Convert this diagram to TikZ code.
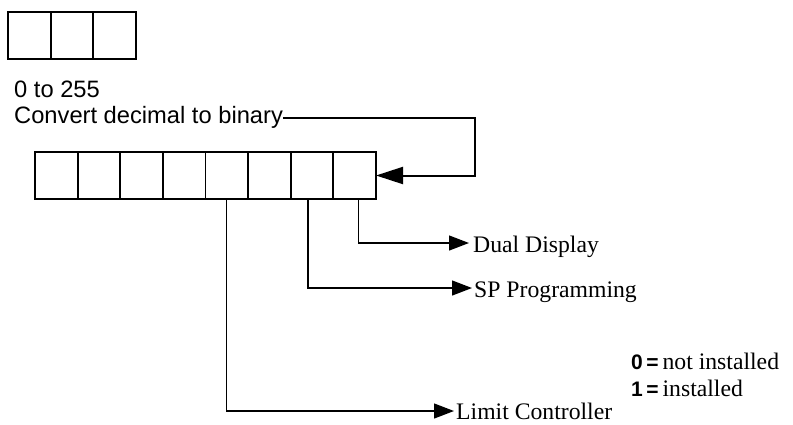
\documentclass[tikz,border=0pt]{standalone}
\usepackage{fontspec}
\setmainfont{Liberation Serif}
\setsansfont{Liberation Sans}
\usetikzlibrary{arrows.meta}
\newcommand{\legfont}{\fontsize{21}{24}\selectfont\sffamily\bfseries}
\begin{document}
\begin{tikzpicture}[x=1pt, y=-1pt,
    cell/.style={draw, line width=1.8pt, inner sep=0pt, outer sep=0pt, minimum height=47pt},
    sans/.style={font=\fontsize{23.7}{28}\selectfont\sffamily, anchor=base west, inner sep=0pt},
    lbl/.style={font=\fontsize{23.7}{28}\selectfont, anchor=base west, inner sep=0pt},
    conn/.style={line width=1.3pt, -{Triangle[length=20pt,width=15pt]}},
    fb/.style={line width=2pt, -{Triangle[length=27pt,width=17pt]}}]
  \useasboundingbox (0,0) rectangle (793,424);
  % decimal value, three digits
  \foreach \i in {1,2,3}
    \node[cell, minimum width=42.67pt] (t\i) at ({8+42.67*(\i-0.5)},35.5) {};
  \node[sans] (range) at (14,97) {0 to 255};
  \node[sans] (conv) at (14,123) {Convert decimal to binary};
  % eight bit register
  \foreach \i in {1,...,8}
    \node[cell, minimum width=42.625pt] (b\i) at ({35+42.625*(\i-0.5)},175.5) {};
  \draw[fb] ([yshift=5pt]conv.base east) -| ([xshift=99pt]b8.east) -- (b8.east);
  % options
  \node[lbl] (dual) at (473,252) {Dual Display};
  \node[lbl] (sp) at (474,297) {SP Programming};
  \node[lbl] (limit) at (456,419) {Limit Controller};
  \draw[conn] ([xshift=4pt]b8.south) |- ([xshift=-4pt,yshift=9pt]dual.base west);
  \draw[conn] ([xshift=-4pt]b7.south) |- ([xshift=-2pt,yshift=9pt]sp.base west);
  \draw[conn] (b5.south) |- ([xshift=-2pt,yshift=8pt]limit.base west);
  % legend
  \node[lbl] (leg0) at (631,369) {{\legfont 0\,=}\,not installed};
  \node[lbl] (leg1) at (631,396) {{\legfont 1\,=}\,installed};
\end{tikzpicture}
\end{document}
